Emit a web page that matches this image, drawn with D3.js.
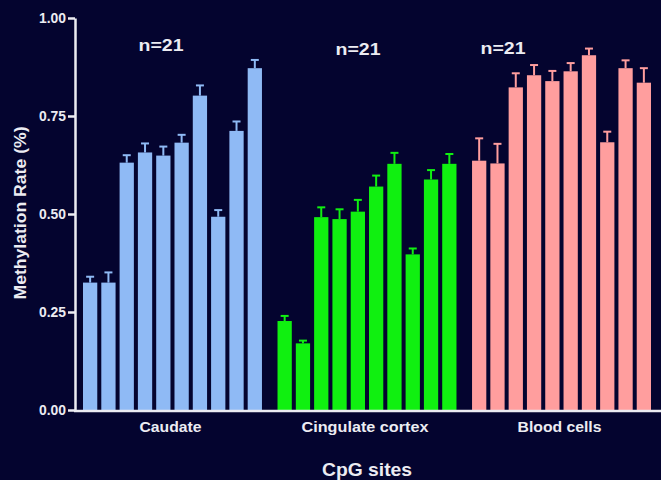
<!DOCTYPE html>
<html>
<head>
<meta charset="utf-8">
<script src="https://cdn.jsdelivr.net/npm/d3@7"></script>
<style>
  html, body { margin: 0; padding: 0; background: #04042f; }
  svg { display: block; }
  text { font-family: "Liberation Sans", Arial, sans-serif; font-weight: bold; fill: #ececf2; }
</style>
</head>
<body>
<svg id="chart" width="661" height="480"></svg>
<script>
// Tissue groups and their colours
const groups = ["Caudate", "Cingulate cortex", "Blood cells"];
const groupColors = ["#8fbaf5", "#10f010", "#ff9e9e"];
const sampleLabels = ["n=21", "n=21", "n=21"];

// CpG site index within each group
const sites = d3.range(10);

// Mean methylation rate per CpG site
const caudateMean   = [0.325, 0.325, 0.631, 0.657, 0.649, 0.682, 0.802, 0.493, 0.712, 0.872];
const cingulateMean = [0.227, 0.170, 0.492, 0.487, 0.506, 0.570, 0.628, 0.397, 0.588, 0.628];
const bloodMean     = [0.636, 0.629, 0.823, 0.854, 0.839, 0.864, 0.905, 0.683, 0.872, 0.835];

// Standard error per CpG site
const caudateErr   = [0.015, 0.026, 0.019, 0.023, 0.023, 0.020, 0.026, 0.017, 0.024, 0.021];
const cingulateErr = [0.013, 0.007, 0.025, 0.025, 0.030, 0.028, 0.028, 0.015, 0.024, 0.025];
const bloodErr     = [0.057, 0.050, 0.036, 0.026, 0.026, 0.021, 0.017, 0.027, 0.020, 0.037];

const yTicks = [0, 0.25, 0.5, 0.75, 1.0];

const means = [caudateMean, cingulateMean, bloodMean];
const errs = [caudateErr, cingulateErr, bloodErr];

const svg = d3.select("#chart");

const y = d3.scaleLinear().domain([0, 1]).range([410, 18]);

const xGroup = d3.scaleBand()
  .domain(groups)
  .range([83, 651])
  .paddingInner(0.08)
  .paddingOuter(0);

const xSite = d3.scaleBand()
  .domain(sites)
  .range([0, xGroup.bandwidth()])
  .paddingInner(0.22)
  .paddingOuter(0);

// Bars with error bars
groups.forEach((g, gi) => {
  const layer = svg.append("g")
    .attr("transform", `translate(${xGroup(g)},0)`);
  const color = groupColors[gi];
  const rows = sites.map(i => ({ i, m: means[gi][i], e: errs[gi][i] }));

  const bw = xSite.bandwidth();
  const eb = layer.selectAll(".err").data(rows).enter().append("g");
  eb.append("line")
    .attr("x1", d => xSite(d.i) + bw / 2)
    .attr("x2", d => xSite(d.i) + bw / 2)
    .attr("y1", d => y(d.m))
    .attr("y2", d => y(d.m + d.e))
    .attr("stroke", color).attr("stroke-width", 2);
  eb.append("line")
    .attr("x1", d => xSite(d.i) + bw / 2 - 4)
    .attr("x2", d => xSite(d.i) + bw / 2 + 4)
    .attr("y1", d => y(d.m + d.e))
    .attr("y2", d => y(d.m + d.e))
    .attr("stroke", color).attr("stroke-width", 2);

  layer.selectAll("rect").data(rows).enter().append("rect")
    .attr("x", d => xSite(d.i))
    .attr("width", bw)
    .attr("y", d => y(d.m))
    .attr("height", d => y(0) - y(d.m))
    .attr("fill", color);
});

// Y axis
const yAxis = svg.append("g")
  .attr("transform", "translate(75,0)")
  .call(d3.axisLeft(y).tickValues(yTicks).tickFormat(d3.format(".2f")).tickSize(7).tickSizeOuter(0));
yAxis.select(".domain").attr("stroke", "#ececf2").attr("stroke-width", 2.5);
yAxis.selectAll(".tick line").attr("stroke", "#ececf2").attr("stroke-width", 2.5);
yAxis.selectAll(".tick text")
  .attr("x", -9)
  .attr("textLength", 27)
  .attr("lengthAdjust", "spacingAndGlyphs")
  .style("font-size", "14px")
  .style("font-weight", "bold")
  .attr("fill", "#ececf2")
  .style("font-family", "Liberation Sans, Arial, sans-serif");

// X axis baseline
svg.append("line")
  .attr("x1", 74).attr("x2", 661)
  .attr("y1", y(0) + 1).attr("y2", y(0) + 1)
  .attr("stroke", "#ececf2").attr("stroke-width", 2.5);

// Group labels
const groupLabelWidths = [62, 127, 84];
svg.selectAll(".glabel").data(groups).enter().append("text")
  .attr("x", d => xGroup(d) + xGroup.bandwidth() / 2 - 2)
  .attr("y", 432)
  .attr("text-anchor", "middle")
  .attr("textLength", (d, i) => groupLabelWidths[i])
  .attr("lengthAdjust", "spacingAndGlyphs")
  .style("font-size", "15px")
  .text(d => d);

// Sample size labels
const nPos = [161, 358, 503];
svg.selectAll(".nlabel").data(sampleLabels).enter().append("text")
  .attr("x", (d, i) => nPos[i])
  .attr("y", (d, i) => [51, 55, 54][i])
  .attr("text-anchor", "middle")
  .attr("textLength", 45)
  .attr("lengthAdjust", "spacingAndGlyphs")
  .style("font-size", "16px")
  .text(d => d);

// Axis titles
svg.append("text")
  .attr("transform", "translate(26,213) rotate(-90)")
  .attr("text-anchor", "middle")
  .attr("textLength", 173)
  .attr("lengthAdjust", "spacingAndGlyphs")
  .style("font-size", "16px")
  .text("Methylation Rate (%)");

svg.append("text")
  .attr("x", 367).attr("y", 476)
  .attr("text-anchor", "middle")
  .attr("textLength", 90)
  .attr("lengthAdjust", "spacingAndGlyphs")
  .style("font-size", "19px")
  .text("CpG sites");
</script>
</body>
</html>
